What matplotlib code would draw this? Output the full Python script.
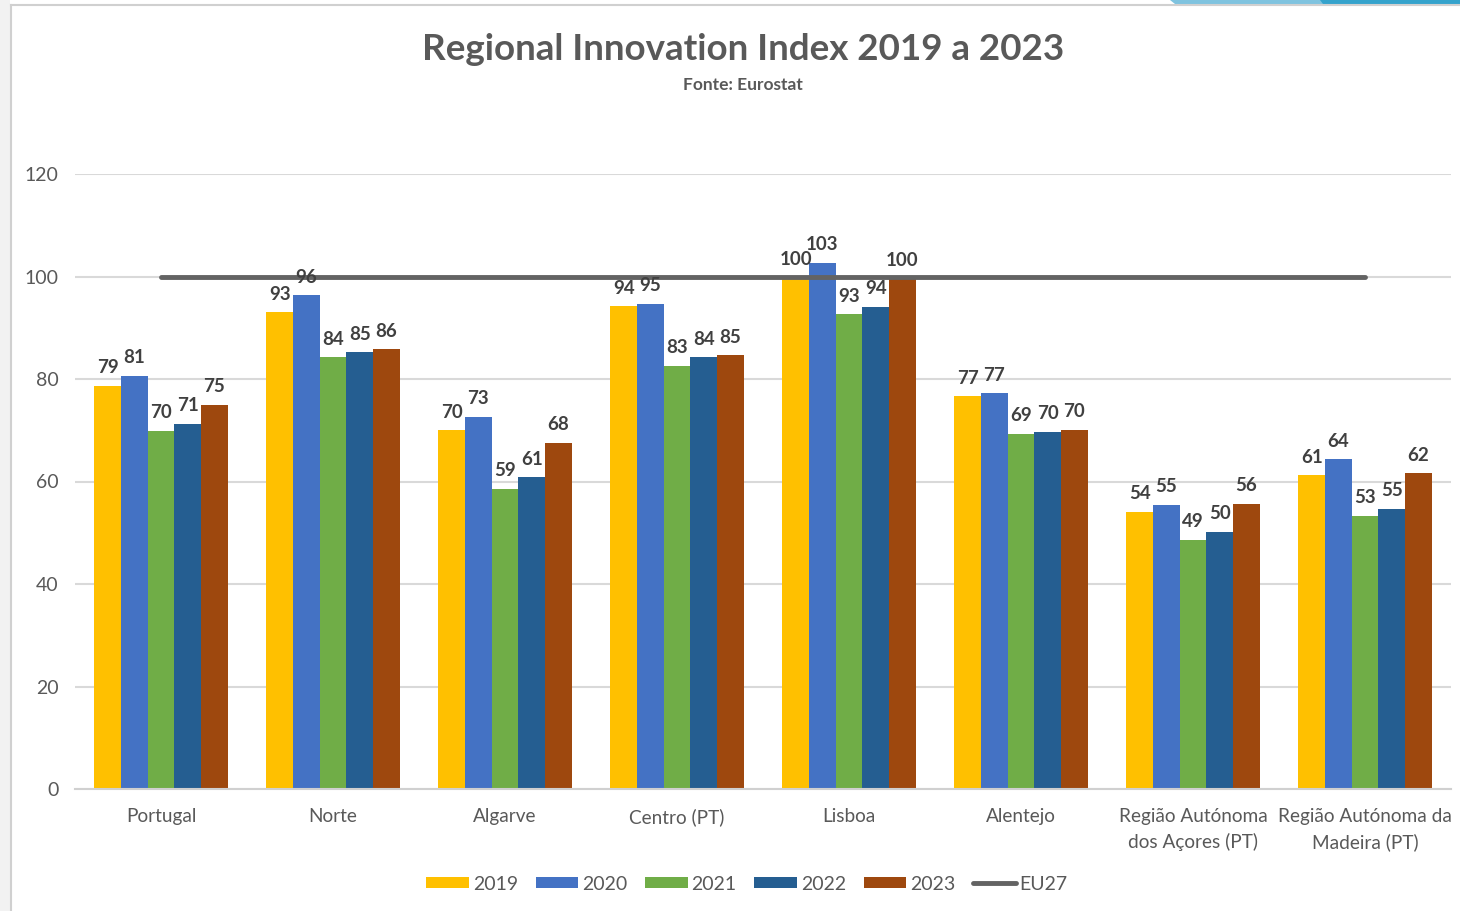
import matplotlib
matplotlib.use("Agg")
import matplotlib.pyplot as plt
import numpy as np
from matplotlib.patches import Rectangle, Polygon

categories = ["Portugal", "Norte", "Algarve", "Centro (PT)", "Lisboa", "Alentejo",
              "Região Autónoma\ndos Açores (PT)", "Região Autónoma da\nMadeira (PT)"]
years = ["2019", "2020", "2021", "2022", "2023"]
v2019 = [78.7, 93.0, 70.0, 94.2, 99.8, 76.6, 54.1, 61.2]
v2020 = [80.6, 96.3, 72.6, 94.7, 102.7, 77.2, 55.4, 64.3]
v2021 = [69.9, 84.2, 58.6, 82.6, 92.6, 69.3, 48.6, 53.3]
v2022 = [71.3, 85.2, 60.8, 84.2, 94.1, 69.7, 50.2, 54.6]
v2023 = [74.9, 85.8, 67.6, 84.6, 99.6, 70.1, 55.6, 61.6]
eu27 = [100, 100, 100, 100, 100, 100, 100, 100]

series = [v2019, v2020, v2021, v2022, v2023]
colors = ["#FFC000", "#4472C4", "#70AD47", "#255E91", "#9E480E"]

plt.rcParams['font.family'] = ['Lato', 'DejaVu Sans']

fig = plt.figure(figsize=(14.6, 9.11), dpi=100)
fig.patch.set_facecolor("white")
# Excel-like frame decorations
fig.patches.append(Rectangle((0, 0), 10/1460, 1, transform=fig.transFigure,
                             facecolor="#f2f2f2", edgecolor="none", zorder=0))
fig.lines.append(plt.Line2D([11/1460, 11/1460], [0, 1 - 5/911], transform=fig.transFigure,
                            color="#d0d0d0", lw=1.5))
fig.lines.append(plt.Line2D([11/1460, 1], [1 - 5/911, 1 - 5/911], transform=fig.transFigure,
                            color="#d0d0d0", lw=1.5))
fig.patches.append(Polygon([(1170/1460, 1), (1175/1460, 1 - 4/911), (1460/1460, 1 - 4/911), (1, 1)],
                           closed=True, transform=fig.transFigure,
                           facecolor="#7fc3df", edgecolor="none"))
fig.patches.append(Polygon([(1320/1460, 1), (1323/1460, 1 - 4/911), (1, 1 - 4/911), (1, 1)],
                           closed=True, transform=fig.transFigure,
                           facecolor="#35a3cc", edgecolor="none"))

ax = fig.add_axes([75/1460, 122/911, 1376/1460, 615/911])
x = np.arange(len(categories))
w = 0.155
for i, (vals, c, yr) in enumerate(zip(series, colors, years)):
    pos = x + (i - 2) * w
    bars = ax.bar(pos, vals, width=w, color=c, label=yr, zorder=2)
    ax.bar_label(bars, fmt="%.0f", padding=7, fontsize=13.5, fontweight="bold",
                 color="#404040", zorder=5)

ax.plot(x, eu27, color="#636363", lw=3.5, solid_capstyle="round", label="EU27", zorder=4)

ax.set_xlim(-0.5, len(categories) - 0.5)
ax.set_ylim(0, 120)
ax.set_yticks(np.arange(0, 121, 20))
ax.yaxis.grid(True, color="#d9d9d9", lw=1.5, zorder=0)
ax.set_axisbelow(True)
for s in ["top", "right", "left"]:
    ax.spines[s].set_visible(False)
ax.spines["bottom"].set_color("#d0d0d0")
ax.spines["bottom"].set_linewidth(1.5)
ax.tick_params(axis="both", length=0, labelsize=14, colors="#595959")
ax.tick_params(axis="x", pad=14, labelsize=13.7)
ax.tick_params(axis="y", pad=12)
ax.set_xticks(x)
ax.set_xticklabels(categories, linespacing=1.5)

fig.text(743/1460, 1 - 49/911, "Regional Innovation Index 2019 a 2023", ha="center", va="center",
         fontsize=26.5, fontweight="bold", color="#595959")
fig.text(743/1460, 1 - 85/911, "Fonte: Eurostat", ha="center", va="center",
         fontsize=12.5, fontweight="bold", color="#595959")

handles, labels = ax.get_legend_handles_labels()
order = [1, 2, 3, 4, 5, 0]
leg = fig.legend([handles[i] for i in order], [labels[i] for i in order],
                 loc="center", bbox_to_anchor=(747/1460, 1 - 884/911), ncol=6, frameon=False,
                 fontsize=14, handlelength=2.2, handleheight=0.55, handletextpad=0.2,
                 columnspacing=0.9, labelcolor="#595959")

fig.savefig("out.png", dpi=100)
